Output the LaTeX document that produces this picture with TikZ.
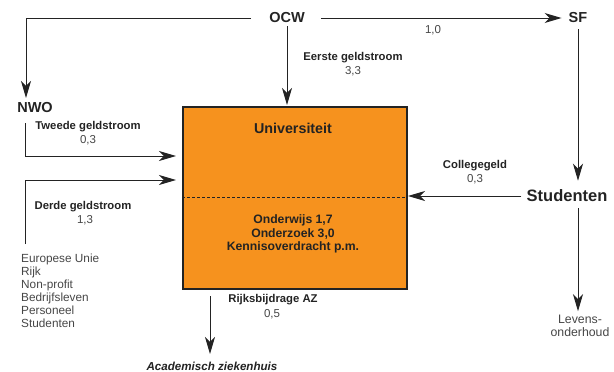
\documentclass[tikz,border=0pt]{standalone}
\usepackage{fontspec}
\setmainfont{Liberation Sans}
\usetikzlibrary{arrows.meta}
\definecolor{uniorange}{RGB}{246,146,30}
\definecolor{ink}{RGB}{35,35,35}
\definecolor{inkgray}{RGB}{70,70,70}
\begin{document}
\begin{tikzpicture}[x=1pt,y=-1pt,
  big/.style={font=\fontsize{14.5}{15}\selectfont\bfseries, text=ink, inner sep=0},
  lab/.style={font=\fontsize{11.3}{12.5}\selectfont\bfseries, text=ink, inner sep=0, align=center},
  num/.style={font=\fontsize{11.5}{12.5}\selectfont, text=inkgray, inner sep=0, align=center},
  unitxt/.style={font=\fontsize{12.2}{13.5}\selectfont\bfseries, text=ink, inner sep=0, align=center},
  flow/.style={draw=ink, line width=1pt, -{Stealth[length=17pt,width=10pt,inset=5pt]}},
  plain/.style={draw=ink, line width=1pt}]
\useasboundingbox (0,0) rectangle (614,372);

% university box
\node[draw=ink, line width=2pt, fill=uniorange, minimum width=224pt, minimum height=182pt,
      anchor=north west, inner sep=0] (uni) at (182,106) {};
\draw[ink, line width=1pt, dash pattern=on 3pt off 2pt] (uni.west |- 0,197) coordinate (dl) -- (uni.east |- 0,197) coordinate (dr);
\node[unitxt, font=\fontsize{14.3}{15}\selectfont\bfseries] (unititle) at (293,128) {Universiteit};
\node[unitxt] (onderwijs) at (293,220) {Onderwijs 1,7};
\node[unitxt] (onderzoek) at (293,234) {Onderzoek 3,0};
\node[unitxt] (kennis) at (293,247) {Kennisoverdracht p.m.};

% main actors
\node[big] (ocw) at (287,18) {OCW};
\node[big] (sf) at (578,18) {SF};
\node[big] (nwo) at (35,108) {NWO};
\node[big, font=\fontsize{16.5}{17}\selectfont\bfseries] (stud) at (567,196) {Studenten};

% labels
\node[num] (v10) at (433,30) {1,0};
\node[lab] (eerste) at (353,58) {Eerste geldstroom};
\node[num] (v33) at (353,71) {3,3};
\node[lab] (tweede) at (88,127) {Tweede geldstroom};
\node[num] (v03a) at (88,140) {0,3};
\node[lab] (derde) at (83,207) {Derde geldstroom};
\node[num] (v13) at (85,220) {1,3};
\node[lab] (college) at (475,166) {Collegegeld};
\node[num] (v03b) at (475,179) {0,3};
\node[lab] (rijks) at (273,300) {Rijksbijdrage AZ};
\node[num] (v05) at (272,314) {0,5};
\node[lab, font=\fontsize{11.6}{12}\selectfont\bfseries\itshape] (az) at (212,366) {Academisch ziekenhuis};
\node[num, font=\fontsize{12.3}{12.6}\selectfont] (levens) at (580,326) {Levens-\\onderhoud};
\node[num, align=left, anchor=north west, font=\fontsize{11.8}{12.9}\selectfont] (lijst) at (21,254)
  {Europese Unie\\Rijk\\Non-profit\\Bedrijfsleven\\Personeel\\Studenten};

% coordinates for free ends
\coordinate (nwoin) at (26,98);
\coordinate (t2start) at (25,123);
\coordinate (t2end) at (176,156);
\coordinate (t3start) at (25,244);
\coordinate (t3end) at (176,180);
\coordinate (azstart) at (210,296);
\coordinate (azend) at (210,354);

% connectors
\draw[flow] ([xshift=-18pt]ocw.west) -| (nwoin);
\draw[flow, shorten <=3pt, shorten >=1pt] (ocw.south) -- (ocw.south |- uni.north);
\draw[flow, shorten <=16pt, shorten >=7pt] (ocw.east) -- (sf.west);
\draw[flow, shorten <=6pt, shorten >=9pt] (sf.south) -- (sf.south |- stud.north);
\draw[flow, shorten <=5pt, shorten >=0pt] (stud.west) -- (stud.west -| uni.east);
\draw[flow, shorten <=6pt, shorten >=4pt] (stud.south -| sf.south) -- (levens.north -| sf.south);
\draw[flow] (t2start) |- (t2end);
\draw[flow] (t3start) |- (t3end);
\draw[flow] (azstart) -- (azend);
\end{tikzpicture}
\end{document}
